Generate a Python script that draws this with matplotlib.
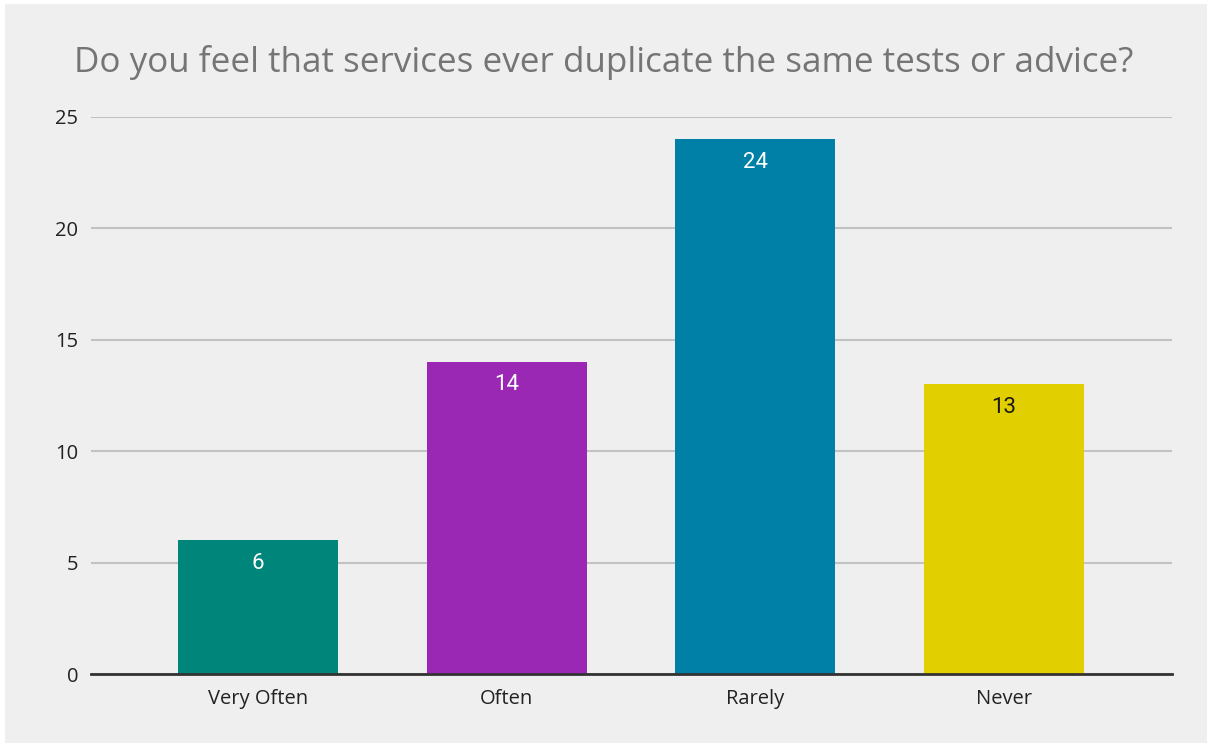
import matplotlib.pyplot as plt
from matplotlib.patches import Rectangle

categories = ["Very Often", "Often", "Rarely", "Never"]
counts = [6, 14, 24, 13]
bar_colors = ["#00857a", "#9b27b5", "#0080a6", "#e2cf00"]
label_colors = ["white", "white", "white", "#1a1a1a"]
y_ticks = [0, 5, 10, 15, 20, 25]

plt.rcParams["font.family"] = ["Open Sans", "DejaVu Sans"]

fig = plt.figure(figsize=(12.07, 7.43), dpi=100, facecolor="white")
# grey panel inset slightly from the left and top edges
fig.patches.append(Rectangle((5 / 1207, 0), 1, 1 - 4 / 743, transform=fig.transFigure,
                             facecolor="#efefef", edgecolor="none", zorder=-10))

ax = fig.add_axes([91 / 1207, 69 / 743, 1081 / 1207, 557 / 743])
ax.set_facecolor("#efefef")

x = range(len(categories))
ax.bar(x, counts, width=0.643, color=bar_colors, zorder=3)

for i, v in enumerate(counts):
    ax.annotate(str(v), (i, v), xytext=(0, -16.5), textcoords="offset points",
                ha="center", va="center", fontsize=16, color=label_colors[i],
                family=["Roboto", "DejaVu Sans"], zorder=4)

ax.set_xlim(-0.671, 3.675)
ax.set_ylim(0, 25)
ax.set_yticks(y_ticks)
ax.set_xticks(list(x))
ax.set_xticklabels(categories)
ax.tick_params(axis="both", length=0, labelsize=14.5, labelcolor="#222222")
ax.tick_params(axis="x", pad=11)
ax.tick_params(axis="y", pad=9)

ax.grid(axis="y", color="#c2c2c2", linewidth=1.5, zorder=0)
for s in ["top", "right", "left"]:
    ax.spines[s].set_visible(False)
ax.spines["bottom"].set_color("#333333")
ax.spines["bottom"].set_linewidth(2)
ax.spines["bottom"].set_zorder(5)

fig.text(0.5, 1 - 62 / 743, "Do you feel that services ever duplicate the same tests or advice?",
         ha="center", va="center", fontsize=25.2, color="#757575")

fig.savefig("out.png", dpi=100, facecolor=fig.get_facecolor())
